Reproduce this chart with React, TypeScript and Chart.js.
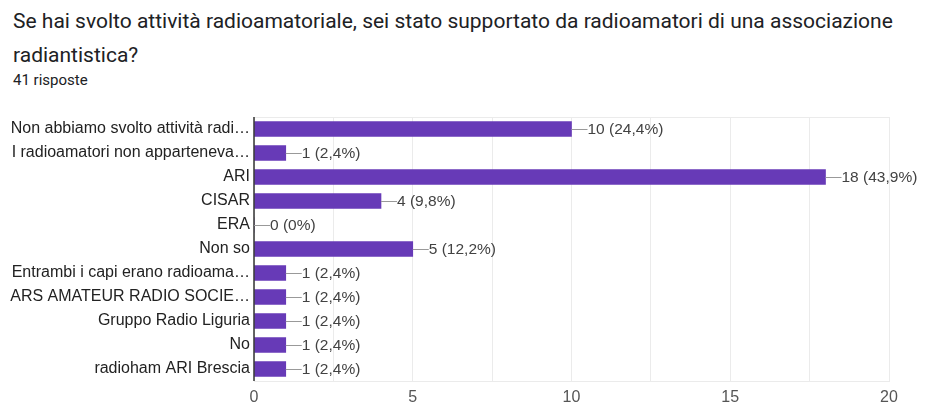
import React, { useEffect, useRef } from "react";
import { Chart, registerables } from "chart.js";

Chart.register(...registerables);

const titleLines = [
  "Se hai svolto attività radioamatoriale, sei stato supportato da radioamatori di una associazione",
  "radiantistica?",
];
const subtitle = "41 risposte";

const categories = [
  "Non abbiamo svolto attività radi…",
  "I radioamatori non apparteneva…",
  "ARI",
  "CISAR",
  "ERA",
  "Non so",
  "Entrambi i capi erano radioama…",
  "ARS AMATEUR RADIO SOCIE…",
  "Gruppo Radio Liguria",
  "No",
  "radioham ARI Brescia",
];
const counts = [10, 1, 18, 4, 0, 5, 1, 1, 1, 1, 1];
const percents = ["24,4%", "2,4%", "43,9%", "9,8%", "0%", "12,2%", "2,4%", "2,4%", "2,4%", "2,4%", "2,4%"];

const TITLE_FONT = "Roboto, Arial, sans-serif";
const FONT = "'Liberation Sans', Arial, sans-serif";
const BAR_COLOR = "#673ab7";

const valueLabels = {
  id: "valueLabels",
  afterDatasetsDraw(chart: any) {
    const ctx = chart.ctx;
    const meta = chart.getDatasetMeta(0);
    ctx.save();
    ctx.font = `15.5px ${FONT}`;
    ctx.textBaseline = "middle";
    ctx.textAlign = "left";
    meta.data.forEach((el: any, i: number) => {
      const x = el.x;
      const y = el.y;
      ctx.strokeStyle = "#999999";
      ctx.lineWidth = 1;
      ctx.beginPath();
      ctx.moveTo(x, Math.round(y) + 0.5);
      ctx.lineTo(x + 16, Math.round(y) + 0.5);
      ctx.stroke();
      ctx.fillStyle = "#424242";
      ctx.fillText(`${counts[i]} (${percents[i]})`, x + 16, y + 1);
    });
    ctx.restore();
  },
};

const frame = {
  id: "frame",
  beforeDatasetsDraw(chart: any) {
    const { ctx, chartArea } = chart;
    ctx.save();
    ctx.strokeStyle = "#ebebeb";
    ctx.lineWidth = 1;
    ctx.beginPath();
    ctx.moveTo(chartArea.left, Math.round(chartArea.top) + 0.5);
    ctx.lineTo(chartArea.right, Math.round(chartArea.top) + 0.5);
    ctx.stroke();
    ctx.restore();
  },
  afterDatasetsDraw(chart: any) {
    const { ctx, chartArea } = chart;
    ctx.save();
    ctx.strokeStyle = "#333333";
    ctx.lineWidth = 1.5;
    ctx.beginPath();
    ctx.moveTo(chartArea.left, chartArea.top);
    ctx.lineTo(chartArea.left, chartArea.bottom);
    ctx.stroke();
    ctx.restore();
  },
};

export default function App() {
  const ref = useRef<HTMLCanvasElement>(null);
  useEffect(() => {
    document.body.style.margin = "0";
    const chart = new Chart(ref.current!, {
      type: "bar",
      data: {
        labels: categories,
        datasets: [
          {
            data: counts,
            backgroundColor: BAR_COLOR,
            borderWidth: 0,
            barThickness: 15,
          },
        ],
      },
      options: {
        indexAxis: "y",
        animation: false,
        responsive: false,
        layout: { padding: { top: 117, right: 49, left: 0, bottom: 0 } },
        plugins: { legend: { display: false }, tooltip: { enabled: false } },
        scales: {
          x: {
            min: 0,
            max: 20,
            ticks: {
              stepSize: 2.5,
              autoSkip: false,
              maxRotation: 0,
              padding: 7,
              color: "#555555",
              font: { family: FONT, size: 16 },
              callback: (v: any) => (Number(v) % 5 === 0 ? String(v) : ""),
            },
            grid: { color: "#ebebeb", drawTicks: false },
            border: { display: true, color: "#ebebeb" },
            afterFit: (s: any) => {
              s.height = 24;
            },
          },
          y: {
            ticks: {
              padding: 4,
              color: "#222222",
              font: { family: FONT, size: 16 },
              autoSkip: false,
            },
            grid: { display: false, drawTicks: false },
            border: { display: false },
            afterFit: (s: any) => {
              s.width = 254;
            },
          },
        },
      },
      plugins: [frame, valueLabels],
    });
    return () => chart.destroy();
  }, []);

  return (
    <div style={{ position: "relative", width: 938, height: 405, background: "#fff", overflow: "hidden" }}>
      <div
        style={{
          position: "absolute",
          left: 13,
          top: 4,
          fontFamily: TITLE_FONT,
          fontSize: 21,
          lineHeight: "34px",
          color: "#202124",
          whiteSpace: "nowrap",
        }}
      >
        {titleLines.map((t, i) => (
          <div key={i}>{t}</div>
        ))}
      </div>
      <div
        style={{
          position: "absolute",
          left: 13,
          top: 71,
          fontFamily: TITLE_FONT,
          fontSize: 15,
          lineHeight: "18px",
          color: "#202124",
        }}
      >
        {subtitle}
      </div>
      <canvas ref={ref} width={938} height={405} style={{ position: "absolute", left: 0, top: 0 }} />
    </div>
  );
}
